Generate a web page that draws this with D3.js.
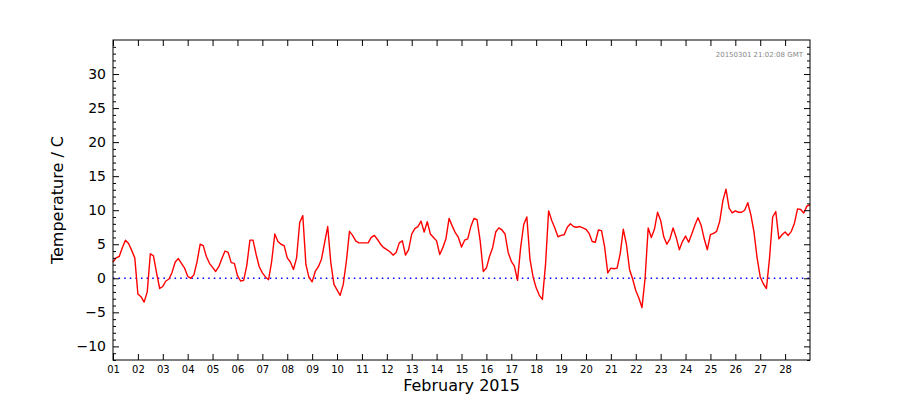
<!DOCTYPE html>
<html>
<head>
<meta charset="utf-8">
<script src="https://cdn.jsdelivr.net/npm/d3@7"></script>
<style>
  body { margin: 0; background: #fff; }
  text { font-family: "DejaVu Sans", sans-serif; }
</style>
</head>
<body>
<div id="chart"></div>
<script>
// 3-hourly readings from 1 Feb 2015 00:00 GMT
const startTime = "2015-02-01T00:00:00Z"
const stepHours = 3
const temps = [
  2.4, 3.0, 3.2, 4.5, 5.6, 5.1, 4.1, 3.0,
  -2.3, -2.7, -3.5, -2.0, 3.6, 3.3, 0.8, -1.5,
  -1.2, -0.4, -0.1, 0.9, 2.4, 2.9, 2.2, 1.5,
  0.3, 0.0, 0.5, 2.4, 5.0, 4.8, 3.2, 2.2,
  1.6, 1.0, 1.7, 2.9, 4.0, 3.8, 2.3, 2.2,
  0.4, -0.4, -0.3, 1.9, 5.6, 5.6, 3.5, 1.7,
  0.8, 0.2, -0.2, 2.5, 6.5, 5.4, 5.0, 4.8,
  3.0, 2.4, 1.3, 3.0, 8.2, 9.2, 2.0, 0.1,
  -0.5, 1.0, 1.7, 2.8, 5.2, 7.6, 2.3, -0.9,
  -1.7, -2.5, -0.9, 2.5, 6.9, 6.3, 5.5, 5.2,
  5.2, 5.2, 5.2, 6.0, 6.3, 5.7, 5.0, 4.5,
  4.2, 3.9, 3.4, 3.8, 5.2, 5.5, 3.4, 4.2,
  6.5, 7.3, 7.6, 8.4, 6.8, 8.3, 6.5, 6.0,
  5.5, 3.5, 4.5, 5.8, 8.8, 7.7, 6.7, 6.0,
  4.6, 5.6, 5.8, 7.6, 8.8, 8.6, 5.5, 1.0,
  1.5, 3.2, 4.5, 6.8, 7.4, 7.1, 6.5, 3.8,
  2.5, 1.8, -0.3, 4.5, 7.9, 9.0, 2.8, 0.2,
  -1.4, -2.5, -3.1, 2.0, 9.9, 8.5, 7.4, 6.1,
  6.3, 6.4, 7.5, 8.0, 7.6, 7.5, 7.6, 7.4,
  7.2, 6.6, 5.4, 5.3, 7.1, 7.0, 4.6, 0.8,
  1.5, 1.4, 1.5, 3.6, 7.2, 5.0, 1.3, -0.1,
  -1.8, -2.9, -4.3, 0.0, 7.4, 6.0, 7.2, 9.7,
  8.5, 6.1, 5.0, 5.8, 7.4, 6.0, 4.2, 5.4,
  6.2, 5.3, 6.5, 7.8, 8.9, 7.8, 5.8, 4.2,
  6.4, 6.6, 6.9, 8.4, 11.4, 13.1, 10.3, 9.6,
  9.9, 9.7, 9.7, 10.0, 11.1, 9.3, 6.8, 3.0,
  0.2, -0.8, -1.5, 3.0, 9.0, 9.8, 5.8, 6.4,
  6.8, 6.3, 6.9, 8.1, 10.2, 10.1, 9.6, 10.6,
  10.8
]
const dayLabels = ["01","02","03","04","05","06","07","08","09","10","11","12","13","14",
                   "15","16","17","18","19","20","21","22","23","24","25","26","27","28"]
const yTicks = [-10, -5, 0, 5, 10, 15, 20, 25, 30]
const yDomain = [-12, 35]
const xLabel = "February 2015"
const yLabel = "Temperature / C"
const stamp = "20150301 21:02:08 GMT"

const width = 900
const height = 400
const margin = {top: 40, right: 90, bottom: 40, left: 113}
const w = width - margin.left - margin.right
const h = height - margin.top - margin.bottom

const t0 = new Date(startTime)
const hour = 3600 * 1000
const data = temps.map((v, i) => ({t: new Date(+t0 + i * stepHours * hour), v: v}))
const dayDates = dayLabels.map(d => new Date(`2015-02-${d}T00:00:00Z`))

const x = d3.scaleUtc()
  .domain([t0, new Date("2015-03-01T00:00:00Z")])
  .range([0, w])
const y = d3.scaleLinear().domain(yDomain).range([h, 0])

const svg = d3.select("#chart")
  .append("svg")
  .attr("width", width)
  .attr("height", height)

const g = svg.append("g")
  .attr("transform", `translate(${margin.left},${margin.top})`)

// zero line
g.append("line")
  .attr("x1", 0).attr("x2", w)
  .attr("y1", y(0)).attr("y2", y(0))
  .attr("stroke", "#0000ff")
  .attr("stroke-width", 1.5)
  .attr("stroke-dasharray", "1.5,4.1")

const line = d3.line()
  .x(d => x(d.t))
  .y(d => y(d.v))

g.append("path")
  .datum(data)
  .attr("fill", "none")
  .attr("stroke", "#ff0000")
  .attr("stroke-width", 1.4)
  .attr("stroke-linejoin", "round")
  .attr("d", line)

// axes, ticks pointing inward
const minor = d3.range(yDomain[0], yDomain[1] + 1).filter(v => v % 5 !== 0)
const fmtDay = d3.utcFormat("%d")

function styleAxis(sel) {
  sel.select(".domain").remove()
  sel.selectAll("line").attr("stroke", "#000")
  sel.selectAll("text").attr("fill", "#000")
}

g.append("g")
  .attr("transform", `translate(0,${h})`)
  .call(d3.axisBottom(x).tickValues(dayDates).tickFormat(fmtDay)
    .tickSizeInner(-6).tickSizeOuter(0).tickPadding(6))
  .call(styleAxis)
  .selectAll("text").attr("font-size", 10).attr("font-family", "DejaVu Sans")

g.append("g")
  .call(d3.axisTop(x).tickValues(dayDates).tickFormat("")
    .tickSizeInner(-6).tickSizeOuter(0))
  .call(styleAxis)

g.append("g")
  .call(d3.axisLeft(y).tickValues(yTicks)
    .tickSizeInner(-6).tickSizeOuter(0).tickPadding(7))
  .call(styleAxis)
  .selectAll("text").attr("font-size", 14).attr("font-family", "DejaVu Sans")

g.append("g")
  .call(d3.axisLeft(y).tickValues(minor).tickFormat("")
    .tickSizeInner(-3).tickSizeOuter(0))
  .call(styleAxis)

g.append("g")
  .attr("transform", `translate(${w},0)`)
  .call(d3.axisRight(y).tickValues(yTicks).tickFormat("")
    .tickSizeInner(-6).tickSizeOuter(0))
  .call(styleAxis)

g.append("g")
  .attr("transform", `translate(${w},0)`)
  .call(d3.axisRight(y).tickValues(minor).tickFormat("")
    .tickSizeInner(-3).tickSizeOuter(0))
  .call(styleAxis)

// frame
g.append("rect")
  .attr("x", 0).attr("y", 0)
  .attr("width", w).attr("height", h)
  .attr("fill", "none")
  .attr("stroke", "#000")
  .attr("stroke-width", 1)

g.append("text")
  .attr("x", w - 7)
  .attr("y", 17)
  .attr("text-anchor", "end")
  .attr("font-size", 7)
  .attr("fill", "#888")
  .text(stamp)

svg.append("text")
  .attr("x", margin.left + w / 2)
  .attr("y", 391)
  .attr("text-anchor", "middle")
  .attr("font-size", 16)
  .text(xLabel)

svg.append("text")
  .attr("transform", `translate(63,${margin.top + h / 2}) rotate(-90)`)
  .attr("text-anchor", "middle")
  .attr("font-size", 16)
  .text(yLabel)
</script>
</body>
</html>
